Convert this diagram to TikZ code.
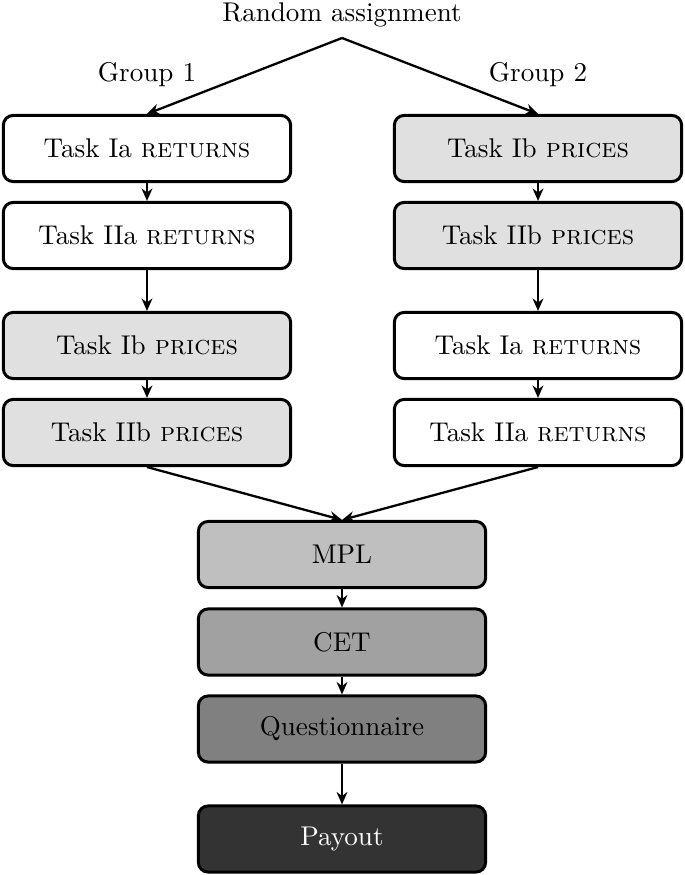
\documentclass[tikz,border=0pt]{standalone}
\usetikzlibrary{arrows.meta}
\begin{document}
\begin{tikzpicture}[x=0.369pt,y=-0.369pt,
  box/.style={draw=black, line width=1.1pt, rounded corners=3.6pt, minimum width=106pt, minimum height=24.4pt, inner sep=0pt, font=\normalsize},
  white/.style={box, fill=white},
  light/.style={box, fill=black!12},
  arr/.style={-{Stealth[length=4.6pt,width=4pt]}, line width=0.85pt}
]
\useasboundingbox (0,0) rectangle (685,875);
\node (ra) at (342,15) {Random assignment};
\coordinate (apex) at (342,38);
\node (g1) at (147,75) {Group 1};
\node (g2) at (538,75) {Group 2};

\node[white] (l1) at (147,148.5) {Task Ia \textsc{returns}};
\node[white] (l2) at (147,235.5) {Task IIa \textsc{returns}};
\node[light] (l3) at (147,345.5) {Task Ib \textsc{prices}};
\node[light] (l4) at (147,432.5) {Task IIb \textsc{prices}};

\node[light] (r1) at (538,148.5) {Task Ib \textsc{prices}};
\node[light] (r2) at (538,235.5) {Task IIb \textsc{prices}};
\node[white] (r3) at (538,345.5) {Task Ia \textsc{returns}};
\node[white] (r4) at (538,432.5) {Task IIa \textsc{returns}};

\node[box, fill=black!25] (mpl) at (342,554.5) {MPL};
\node[box, fill=black!37] (cet) at (342,642) {CET};
\node[box, fill=black!50] (q) at (342,729) {Questionnaire};
\node[box, fill=black!80, text=white] (pay) at (342,839) {Payout};

\draw[arr] (apex) -- (l1.north);
\draw[arr] (apex) -- (r1.north);

\draw[arr] (l1) -- (l2);
\draw[arr] (l2) -- (l3);
\draw[arr] (l3) -- (l4);
\draw[arr] (r1) -- (r2);
\draw[arr] (r2) -- (r3);
\draw[arr] (r3) -- (r4);
\draw[arr] (l4.south) -- (mpl.north);
\draw[arr] (r4.south) -- (mpl.north);
\draw[arr] (mpl) -- (cet);
\draw[arr] (cet) -- (q);
\draw[arr] (q) -- (pay);
\end{tikzpicture}
\end{document}
